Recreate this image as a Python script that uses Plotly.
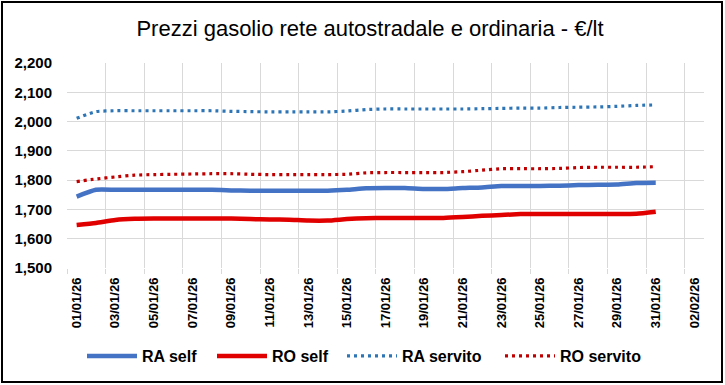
import plotly.graph_objects as go
import pandas as pd

title = "Prezzi gasolio rete autostradale e ordinaria - €/lt"
dates = pd.date_range("2026-01-01", "2026-01-31", freq="D")

ra_self = [1.744, 1.767, 1.767, 1.767, 1.767, 1.767, 1.767, 1.767, 1.765, 1.764,
           1.764, 1.764, 1.764, 1.764, 1.767, 1.772, 1.773, 1.773, 1.770, 1.770,
           1.773, 1.775, 1.780, 1.780, 1.780, 1.781, 1.783, 1.784, 1.785, 1.790, 1.791]
ro_self = [1.647, 1.654, 1.664, 1.668, 1.669, 1.669, 1.669, 1.669, 1.669, 1.667,
           1.666, 1.665, 1.662, 1.662, 1.667, 1.670, 1.671, 1.671, 1.671, 1.671,
           1.674, 1.678, 1.681, 1.684, 1.684, 1.684, 1.684, 1.684, 1.684, 1.685, 1.692]
ra_servito = [2.011, 2.034, 2.037, 2.037, 2.037, 2.037, 2.037, 2.037, 2.035, 2.034,
              2.033, 2.033, 2.033, 2.033, 2.036, 2.041, 2.043, 2.043, 2.043, 2.043,
              2.043, 2.044, 2.045, 2.046, 2.046, 2.048, 2.049, 2.050, 2.052, 2.055, 2.057]
ro_servito = [1.795, 1.804, 1.811, 1.817, 1.819, 1.820, 1.821, 1.822, 1.822, 1.820,
              1.819, 1.819, 1.819, 1.819, 1.820, 1.825, 1.826, 1.826, 1.826, 1.826,
              1.829, 1.834, 1.839, 1.839, 1.839, 1.840, 1.843, 1.844, 1.844, 1.844, 1.846]

tick_dates = pd.date_range("2026-01-01", "2026-02-02", freq="2D")
tick_labels = [d.strftime("%d/%m/%y") for d in tick_dates]

L, R, T, B = 67, 21, 63, 117
W, H = 725, 385
pw, ph = W - L - R, H - T - B

series = [
    ("RA self", ra_self, dict(color="#4472C4", width=4.5), "legend", 88),
    ("RO self", ro_self, dict(color="#E00000", width=4.5), "legend2", 218),
    ("RA servito", ra_servito, dict(color="#2E75B6", width=3.2, dash="3px,4px"), "legend3", 348),
    ("RO servito", ro_servito, dict(color="#C00000", width=3.2, dash="3px,4px"), "legend4", 506),
]

fig = go.Figure()
legend_layout = {}
for name, vals, line, leg, xstart in series:
    fig.add_trace(go.Scatter(x=dates, y=vals, name=name, mode="lines", legend=leg,
                             line=dict(shape="spline", smoothing=0.5, **line)))
    legend_layout[leg] = dict(
        orientation="h", xref="container", yref="container",
        x=(xstart - 6) / W, xanchor="left", y=1 - 356 / H, yanchor="middle",
        font=dict(size=16, color="black", family="Liberation Sans", weight="bold"),
        itemwidth=50, bgcolor="rgba(0,0,0,0)", borderwidth=0)

fig.update_layout(
    width=W, height=H,
    margin=dict(l=L, r=R, t=T, b=B, autoexpand=False),
    paper_bgcolor="white", plot_bgcolor="white",
    separators=",.",
    font=dict(family="Liberation Sans", color="black"),
    title=dict(text=title, x=370 / W, xanchor="center", xref="container", yref="container",
               y=1 - 28 / H, yanchor="middle",
               font=dict(family="Liberation Sans", size=22, color="black")),
    showlegend=True,
    xaxis=dict(
        type="date", automargin=False,
        range=["2025-12-31 12:00", "2026-02-02 12:00"],
        tickmode="array", tickvals=list(tick_dates), ticktext=tick_labels,
        tickangle=-90, showgrid=False, ticks="", ticklabelstandoff=6,
        tickfont=dict(size=13, family="Liberation Sans", weight="bold", color="black"),
        showline=False, zeroline=False,
        minor=dict(tick0="2025-12-31 12:00", dtick=2 * 86400000, showgrid=True,
                   gridcolor="#D9D9D9", gridwidth=1, ticks="outside", ticklen=5,
                   tickcolor="#D9D9D9", tickwidth=1),
    ),
    yaxis=dict(
        range=[1.5, 2.2], dtick=0.1, tick0=1.5, tickformat=".3f", automargin=False,
        showgrid=True, gridcolor="#D9D9D9", gridwidth=1, zeroline=False,
        ticks="", ticklabelstandoff=14, showline=False,
        tickfont=dict(size=15, family="Liberation Sans", weight="bold", color="black"),
    ),
    **legend_layout,
)

fig.add_shape(type="rect", xref="paper", yref="paper",
              x0=(2 - L) / pw, x1=(722 - L) / pw,
              y0=(H - B - 382) / ph, y1=(H - B - 2) / ph,
              line=dict(color="black", width=2), fillcolor="rgba(0,0,0,0)", layer="above")

fig.write_html("out.html", config={"displayModeBar": False},
               post_script="document.body.style.margin='0';")
